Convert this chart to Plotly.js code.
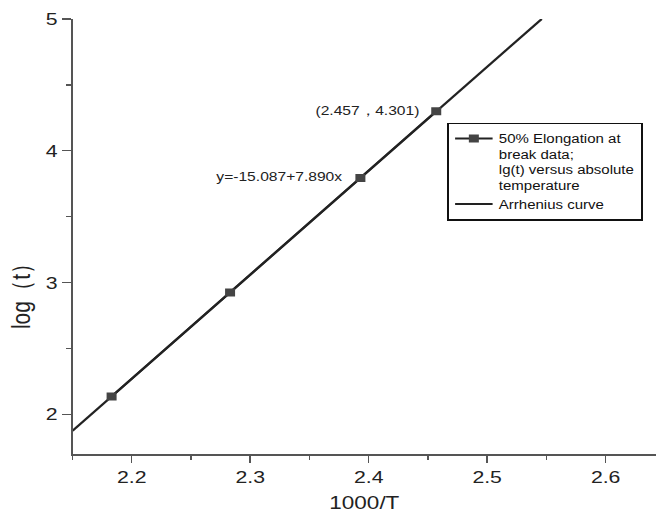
<!DOCTYPE html>
<html>
<head>
<meta charset="utf-8">
<script src="https://cdn.plot.ly/plotly-3.0.1.min.js"></script>
<style>
html,body{margin:0;padding:0;background:#fff;overflow:hidden;width:656px;height:526px;}
#wrap{width:656px;height:526px;overflow:hidden;}
#chart{width:525px;height:526px;transform:scaleX(1.25);transform-origin:0 0;}
</style>
</head>
<body>
<div id="wrap"><div id="chart"></div></div>
<script>
// Measured data: 50% elongation at break, lg(t) versus 1000/T
const invTemp = [2.183, 2.283, 2.393, 2.457];
const logTime = [2.137, 2.926, 3.794, 4.301];

// Arrhenius fit line end points (y = -15.087 + 7.890x)
const fitX = [2.15, 2.546];
const fitY = [1.876, 5.0];

const xTicks = [2.2, 2.3, 2.4, 2.5, 2.6];
const xTickText = ['2.2', '2.3', '2.4', '2.5', '2.6'];
const yTicks = [2, 3, 4, 5];
const yTickText = ['2', '3', '4', '5'];

const dataName = '50% Elongation at<br>break data;<br>lg(t) versus absolute<br>temperature';
const fitName = 'Arrhenius curve';
const eqText = 'y=-15.087+7.890x';
const ptText = '(2.457，4.301)';
const yTitle = 'log（t）';
const xTitle = '1000/T';

const FONT = 'Liberation Sans, Arial, sans-serif';

const traces = [
  {
    x: fitX, y: fitY, mode: 'lines', name: fitName,
    line: {color: '#222', width: 2},
    hoverinfo: 'skip'
  },
  {
    x: invTemp, y: logTime, mode: 'lines+markers', name: dataName,
    line: {color: '#222', width: 2},
    marker: {symbol: 'square', size: 8, color: '#444'}
  }
];

const axisCommon = {
  showline: true, linecolor: '#555', linewidth: 1.5,
  ticks: 'outside', ticklen: 7, tickwidth: 1.2, tickcolor: '#555',
  showgrid: false, zeroline: false, mirror: false,
  tickfont: {family: FONT, size: 17, color: '#222'}
};

const layout = {
  width: 525, height: 526,
  margin: {l: 58.4, r: 0, t: 19, b: 72},
  paper_bgcolor: '#fff', plot_bgcolor: '#fff',
  showlegend: true,
  xaxis: Object.assign({}, axisCommon, {
    range: [2.15, 2.6427],
    tickmode: 'array', tickvals: xTicks, ticktext: xTickText,
    minor: {dtick: 0.05, tick0: 2.15, ticks: 'outside', ticklen: 4, tickcolor: '#555', tickwidth: 1.2},
    title: {text: xTitle, font: {family: FONT, size: 18, color: '#222'}, standoff: 10}
  }),
  yaxis: Object.assign({}, axisCommon, {
    range: [1.70, 5.0],
    tickmode: 'array', tickvals: yTicks, ticktext: yTickText,
    minor: {dtick: 0.5, tick0: 2, ticks: 'outside', ticklen: 4, tickcolor: '#555', tickwidth: 1.2},
    ticklabelstandoff: 0
  }),
  legend: {
    x: 0.6415, y: 0.7615, xanchor: 'left', yanchor: 'top',
    xref: 'paper', yref: 'paper',
    bgcolor: '#fff', bordercolor: '#111', borderwidth: 1.5,
    font: {family: FONT, size: 12, color: '#111'},
    traceorder: 'reversed', valign: 'top', tracegroupgap: 0
  },
  annotations: [
    {
      x: 0.0, y: 0.375, xref: 'paper', yref: 'paper',
      xanchor: 'center', yanchor: 'middle', xshift: -41,
      text: yTitle, textangle: -90, showarrow: false,
      font: {family: FONT, size: 21, color: '#222'}
    },
    {
      x: invTemp[2], y: logTime[2], xref: 'x', yref: 'y',
      text: eqText, showarrow: false, xanchor: 'right', xshift: -11, yshift: 1,
      font: {family: FONT, size: 12.5, color: '#222'}
    },
    {
      x: invTemp[3], y: logTime[3], xref: 'x', yref: 'y',
      text: ptText, showarrow: false, xanchor: 'right', xshift: -11, yshift: 0,
      font: {family: FONT, size: 12.5, color: '#222'}
    }
  ]
};

Plotly.newPlot('chart', traces, layout, {displayModeBar: false, staticPlot: true});
</script>
</body>
</html>
